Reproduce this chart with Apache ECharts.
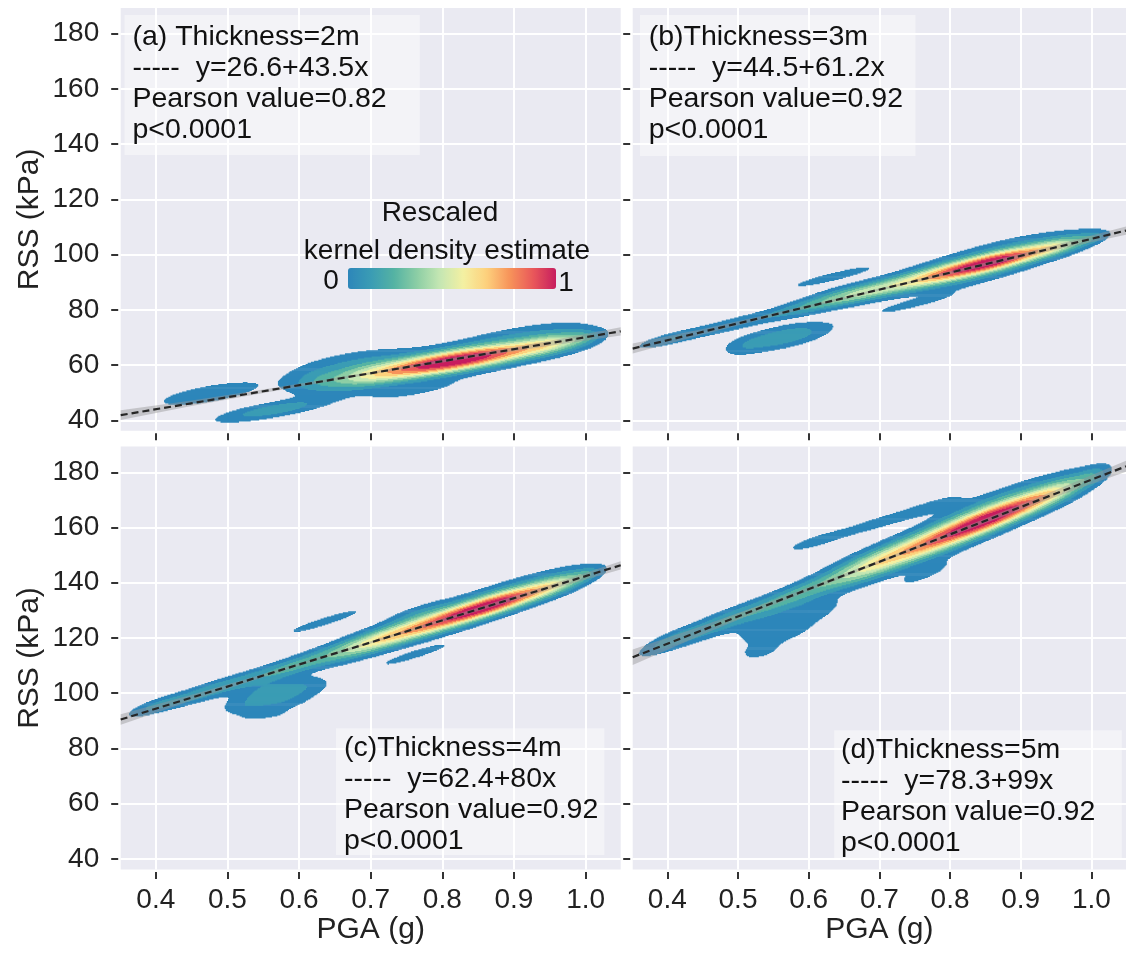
<!DOCTYPE html>
<html><head><meta charset="utf-8">
<script src="https://cdn.jsdelivr.net/npm/echarts@6/dist/echarts.min.js"></script>
<style>html,body{margin:0;padding:0;background:#fff}#c{width:1126px;height:956px}</style>
</head><body><div id="c"></div>
<script>
// ---------------- data ----------------
const xTicks = [0.4, 0.5, 0.6, 0.7, 0.8, 0.9, 1.0];
const yTicks = [40, 60, 80, 100, 120, 140, 160, 180];
const xRange = [0.351, 1.049];
const yRange = [36.2, 189.3];
const panelTitles = ['(a) Thickness=2m', '(b)Thickness=3m', '(c)Thickness=4m', '(d)Thickness=5m'];
const intercepts = [26.6, 44.5, 62.4, 78.3];
const slopes = [43.5, 61.2, 80, 99];
const slopeLabels = ['43.5', '61.2', '80', '99'];
const pearsonValues = ['0.82', '0.92', '0.92', '0.92'];
const pValueText = 'p<0.0001';
// confidence band half widths (kPa) read at ciX
const ciX = [0.351, 0.45, 0.55, 0.7, 0.85, 0.95, 1.049];
const ciHalfA = [1.8, 1.0, 0.6, 0.4, 0.6, 0.9, 1.5];
const ciHalfB = [1.8, 1.0, 0.6, 0.4, 0.6, 0.9, 1.5];
const ciHalfC = [1.9, 1.0, 0.6, 0.4, 0.6, 0.9, 1.5];
const ciHalfD = [2.8, 1.6, 0.9, 0.5, 0.8, 1.2, 2.0];
// density components:
// [centre PGA, centre RSS, spread along PGA, spread across, weight, (tilt, kPa per g)]
const kdeA = [
  [0.865, 63.6, 0.06, 2.6, 1.0], [0.78, 60.0, 0.055, 2.7, 0.95], [0.69, 56.3, 0.045, 3.0, 0.5],
  [0.955, 67.9, 0.035, 2.4, 0.5], [0.62, 54.5, 0.025, 2.7, 0.15], [0.995, 69.7, 0.015, 1.6, 0.15],
  [0.91, 71.5, 0.06, 2.0, 0.12], [0.67, 61.5, 0.055, 2.5, 0.12], [0.76, 51.0, 0.045, 1.6, 0.12],
  [0.475, 49.6, 0.06, 2.6, 0.13], [0.565, 43.8, 0.05, 1.7, 0.28]
];
const kdeB = [
  [0.40, 69.3, 0.03, 1.3, 0.12], [0.49, 74.6, 0.06, 1.5, 0.16], [0.60, 81.3, 0.04, 1.7, 0.2],
  [0.68, 86.3, 0.045, 2.0, 0.45], [0.79, 93.0, 0.055, 2.3, 0.8], [0.875, 98.2, 0.05, 2.2, 1.0],
  [0.955, 103.1, 0.03, 2.0, 0.4], [1.0, 105.9, 0.015, 1.3, 0.15], [0.87, 102.5, 0.07, 2.2, 0.1],
  [0.84, 91.5, 0.06, 1.8, 0.08], [0.64, 85.8, 0.035, 1.8, 0.08], [0.635, 92.0, 0.055, 1.4, 0.1],
  [0.75, 82.3, 0.05, 1.3, 0.1], [0.565, 70.2, 0.04, 2.4, 0.28, 50], [0.51, 67.0, 0.02, 2.2, 0.08, 50]
];
const kdeC = [
  [0.40, 95.5, 0.025, 1.5, 0.15], [0.48, 101.3, 0.05, 1.8, 0.28], [0.59, 109.6, 0.04, 2.0, 0.28],
  [0.70, 118.4, 0.05, 2.5, 0.6], [0.80, 126.4, 0.055, 2.6, 0.85], [0.885, 133.2, 0.05, 2.4, 1.0],
  [0.96, 139.2, 0.03, 2.2, 0.4], [1.0, 142.8, 0.015, 1.5, 0.15], [0.765, 129.0, 0.03, 1.8, 0.12],
  [0.89, 138.0, 0.07, 2.2, 0.1], [0.636, 126.0, 0.05, 1.4, 0.1], [0.762, 114.0, 0.045, 1.3, 0.1],
  [0.565, 99.5, 0.035, 3.5, 0.26, 30], [0.52, 95.0, 0.02, 2.0, 0.08, 30], [0.615, 103.0, 0.02, 2.0, 0.08, 30],
  [0.55, 92.0, 0.025, 1.2, 0.07, 30]
];
const kdeD = [
  [0.40, 118.6, 0.025, 1.8, 0.15], [0.47, 125.0, 0.05, 2.3, 0.28], [0.58, 135.5, 0.045, 2.3, 0.3],
  [0.69, 146.6, 0.05, 3.2, 0.6], [0.79, 156.5, 0.055, 3.3, 0.85], [0.875, 165.2, 0.05, 3.0, 1.0],
  [0.95, 172.8, 0.035, 2.8, 0.45], [1.0, 178.5, 0.015, 2.0, 0.15], [0.86, 170.0, 0.06, 2.2, 0.12],
  [0.61, 155.0, 0.035, 1.7, 0.1, 76], [0.70, 161.8, 0.04, 1.7, 0.1, 76], [0.78, 167.9, 0.035, 1.9, 0.1, 76],
  [0.765, 143.5, 0.03, 2.0, 0.1], [0.555, 124.5, 0.04, 4.5, 0.16, 50], [0.53, 115.0, 0.02, 2.0, 0.08, 50],
  [0.61, 131.0, 0.025, 2.5, 0.1, 50]
];
const kdeLevels = [0.05, 0.13, 0.22, 0.31, 0.40, 0.49, 0.58, 0.67, 0.76, 0.86];
const kdeColors = ['#2D86BA', '#3A9CB4', '#55B3A3', '#8DCEA5', '#C6E7B3', '#F4F0A2', '#FDD07C', '#F7935A', '#E9585A', '#C71D5F'];
const legendTitle = ['Rescaled', 'kernel density estimate'];
const legendEnds = ['0', '1'];

// ---------------- layout ----------------
const FF = "'Liberation Sans', Arial, sans-serif";
const grids = [
  {left: 120.7, top: 8, width: 500, height: 422.8},
  {left: 632.7, top: 8, width: 500, height: 422.8},
  {left: 120.7, top: 446.6, width: 500, height: 422.8},
  {left: 632.7, top: 446.6, width: 500, height: 422.8}
];
const kdeSets = [kdeA, kdeB, kdeC, kdeD];
const ciSets = [ciHalfA, ciHalfB, ciHalfC, ciHalfD];

// density on a fine grid, then horizontal runs of cells above each level
function densityRuns(comps, slope) {
  const nx = 470, ny = 400;
  const dx = (xRange[1] - xRange[0]) / nx, dy = (yRange[1] - yRange[0]) / ny;
  const vals = new Float64Array(nx * ny);
  let mx = 0;
  for (let j = 0; j < ny; j++) {
    const y = yRange[0] + (j + 0.5) * dy;
    for (let i = 0; i < nx; i++) {
      const x = xRange[0] + (i + 0.5) * dx;
      let d = 0;
      for (const c of comps) {
        const u = (x - c[0]) / c[2];
        if (u > 5 || u < -5) continue;
        const t = c.length > 5 ? c[5] : slope;
        const v = (y - c[1] - t * (x - c[0])) / c[3];
        if (v > 5 || v < -5) continue;
        d += c[4] * Math.exp(-0.5 * (u * u + v * v));
      }
      vals[j * nx + i] = d;
      if (d > mx) mx = d;
    }
  }
  const out = [];
  const nL = kdeLevels.length;
  for (let L = 0; L < nL; L++) {
    const th = kdeLevels[L] * mx;
    for (let j = 0; j < ny; j++) {
      let start = -1;
      for (let i = 0; i <= nx; i++) {
        const inside = i < nx && vals[j * nx + i] >= th;
        if (inside && start < 0) start = i;
        if (!inside && start >= 0) {
          out.push([xRange[0] + start * dx, xRange[0] + i * dx, yRange[0] + j * dy, yRange[0] + (j + 1) * dy, L / (nL - 1)]);
          start = -1;
        }
      }
    }
  }
  return out;
}

const xAxes = [], yAxes = [], series = [], graphics = [];
for (let p = 0; p < 4; p++) {
  const bottom = p >= 2, left = p % 2 === 0;
  xAxes.push({
    type: 'value', gridIndex: p, min: xRange[0], max: xRange[1], offset: 2.5,
    axisLine: {show: false},
    axisTick: {show: true, length: 7, lineStyle: {color: '#333', width: 2}, customValues: xTicks},
    axisLabel: {show: bottom, customValues: xTicks, margin: 14, fontSize: 28, color: '#222', fontFamily: FF,
      formatter: v => v.toFixed(1)},
    splitLine: {show: true, lineStyle: {color: '#fff', width: 2}},
    name: bottom ? 'PGA (g)' : '', nameLocation: 'middle', nameGap: 35,
    nameTextStyle: {fontSize: 30, color: '#222', fontFamily: FF}
  });
  yAxes.push({
    type: 'value', gridIndex: p, min: yRange[0], max: yRange[1], offset: 2.5, splitNumber: 8,
    axisLine: {show: false},
    axisTick: {show: true, length: 7, lineStyle: {color: '#333', width: 2}, customValues: yTicks},
    axisLabel: {show: left, customValues: yTicks, margin: 19, fontSize: 28, color: '#222', fontFamily: FF},
    splitLine: {show: true, lineStyle: {color: '#fff', width: 2}},
    name: left ? 'RSS (kPa)' : '', nameLocation: 'middle', nameGap: 73,
    nameTextStyle: {fontSize: 30, color: '#222', fontFamily: FF}
  });
}
// density series first (indices 0..3)
for (let p = 0; p < 4; p++) {
  series.push({
    type: 'custom', xAxisIndex: p, yAxisIndex: p, clip: true, silent: true,
    data: densityRuns(kdeSets[p], slopes[p]),
    encode: {x: [0, 1], y: [2, 3]},
    renderItem: (params, api) => {
      const a = api.coord([api.value(0), api.value(3)]);
      const b = api.coord([api.value(1), api.value(2)]);
      return {type: 'rect', shape: {x: a[0] - 0.2, y: a[1] - 0.3, width: b[0] - a[0] + 0.4, height: b[1] - a[1] + 0.6},
        style: {fill: api.visual('color')}};
    }
  });
}
for (let p = 0; p < 4; p++) {
  const a = intercepts[p], b = slopes[p];
  const band = ciX.map((x, k) => [x, a + b * x - ciSets[p][k], a + b * x + ciSets[p][k]]);
  series.push({
    type: 'custom', xAxisIndex: p, yAxisIndex: p, clip: true, silent: true, z: 4,
    data: band, encode: {x: 0, y: [1, 2]},
    renderItem: (params, api) => {
      if (params.dataIndex !== 0) return null;
      const up = band.map(r => api.coord([r[0], r[2]]));
      const lo = band.map(r => api.coord([r[0], r[1]])).reverse();
      return {type: 'polygon', shape: {points: up.concat(lo)}, style: {fill: 'rgba(150,150,150,0.45)'}};
    }
  });
  series.push({
    type: 'line', xAxisIndex: p, yAxisIndex: p, symbol: 'none', silent: true, z: 5,
    lineStyle: {color: '#262626', width: 2.2, type: [7, 4]},
    data: [[xRange[0], a + b * xRange[0]], [xRange[1], a + b * xRange[1]]]
  });
}
// annotation boxes and texts
const boxes = [
  {x: 124.5, y: 15, w: 295.3, h: 140, tx: 132.4, ty: 21.2},
  {x: 640, y: 15, w: 275.5, h: 141, tx: 648.7, ty: 21.2},
  {x: 336, y: 728.3, w: 268.4, h: 126.7, tx: 344, ty: 732.8},
  {x: 834.2, y: 730.3, w: 287.6, h: 127.6, tx: 841, ty: 735}
];
for (let p = 0; p < 4; p++) {
  const bx = boxes[p];
  graphics.push({type: 'rect', z: 100, shape: {x: bx.x, y: bx.y, width: bx.w, height: bx.h},
    style: {fill: 'rgba(255,255,255,0.42)'}});
  graphics.push({type: 'text', z: 101, x: bx.tx, y: bx.ty,
    style: {text: [panelTitles[p], '-----  y=' + intercepts[p] + '+' + slopeLabels[p] + 'x',
      'Pearson value=' + pearsonValues[p], pValueText].join('\n'),
      font: '28.5px ' + FF, fill: '#111', lineHeight: 31, align: 'left', verticalAlign: 'top'}});
}
graphics.push({type: 'text', z: 101, x: 440, y: 213,
  style: {text: legendTitle[0], font: '28px ' + FF, fill: '#111', align: 'center', verticalAlign: 'middle'}});
graphics.push({type: 'text', z: 101, x: 447, y: 251,
  style: {text: legendTitle[1], font: '28px ' + FF, fill: '#111', align: 'center', verticalAlign: 'middle'}});
graphics.push({type: 'text', z: 101, x: 331, y: 281,
  style: {text: legendEnds[0], font: '28px ' + FF, fill: '#111', align: 'center', verticalAlign: 'middle'}});
graphics.push({type: 'text', z: 101, x: 566, y: 283,
  style: {text: legendEnds[1], font: '28px ' + FF, fill: '#111', align: 'center', verticalAlign: 'middle'}});

const chart = echarts.init(document.getElementById('c'), null, {renderer: 'canvas'});
chart.setOption({
  animation: false,
  backgroundColor: '#fff',
  grid: grids.map(g => Object.assign({show: true, backgroundColor: '#EAEAF2', borderWidth: 0}, g)),
  xAxis: xAxes,
  yAxis: yAxes,
  visualMap: {
    type: 'continuous', min: 0, max: 1, dimension: 4, seriesIndex: [0, 1, 2, 3],
    orient: 'horizontal', left: 333, top: 253, itemWidth: 21, itemHeight: 208,
    text: null, showLabel: false, calculable: false, hoverLink: false,
    inRange: {color: kdeColors}
  },
  series: series,
  graphic: graphics
});
</script></body></html>
